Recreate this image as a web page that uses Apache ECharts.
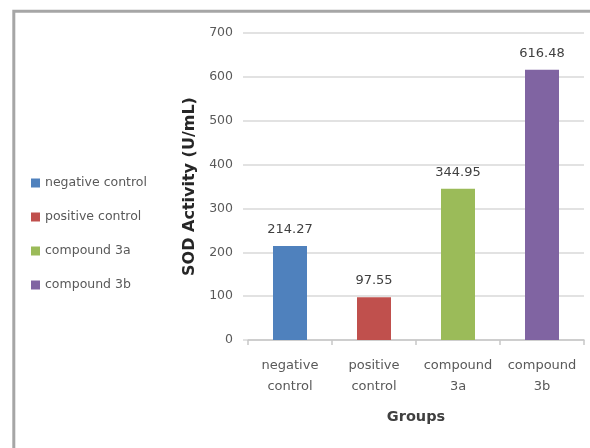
<!DOCTYPE html>
<html>
<head>
<meta charset="utf-8">
<script src="https://cdn.jsdelivr.net/npm/echarts@6/dist/echarts.min.js"></script>
<style>
  html, body { margin: 0; padding: 0; background: #ffffff; }
  #chart { width: 590px; height: 448px; }
</style>
</head>
<body>
<div id="chart"></div>
<script>
// Group names (axis labels wrap onto two lines) and SOD activity per group
const groups = ['negative control', 'positive control', 'compound 3a', 'compound 3b'];
const groupAxisLabels = ['negative\ncontrol', 'positive\ncontrol', 'compound\n3a', 'compound\n3b'];
const sodActivity = [214.27, 97.55, 344.95, 616.48];
const groupColors = ['#4f81bd', '#c0504d', '#9bbb59', '#8064a2'];
const yTicks = { min: 0, max: 700, interval: 100 };

const labelFont = "'DejaVu Sans', sans-serif";
const textColor = '#595959';

// One series per group so each gets its own legend entry; stacking keeps bars centred
const series = groups.map((name, i) => ({
  name: name,
  type: 'bar',
  stack: 'groups',
  barWidth: 34,
  itemStyle: { color: groupColors[i] },
  label: {
    show: true,
    position: 'top',
    distance: 10,
    color: '#404040',
    fontFamily: labelFont,
    fontSize: 13,
    formatter: p => sodActivity[p.dataIndex].toFixed(2)
  },
  data: sodActivity.map((v, j) => (j === i ? v : '-'))
}));

const chart = echarts.init(document.getElementById('chart'), null, { renderer: 'canvas' });
chart.setOption({
  animation: false,
  backgroundColor: '#ffffff',
  graphic: [{
    type: 'rect',
    shape: { x: 13.8, y: 11.3, width: 620, height: 480 },
    style: { fill: 'none', stroke: '#a6a6a6', lineWidth: 3 },
    silent: true
  }],
  legend: {
    orient: 'vertical',
    left: 31,
    top: 175,
    padding: 0,
    itemWidth: 9,
    itemHeight: 9,
    itemGap: 18,
    icon: 'rect',
    data: groups,
    textStyle: {
      fontFamily: labelFont,
      fontSize: 12.5,
      color: textColor,
      lineHeight: 16
    }
  },
  grid: { left: 248, right: 6, top: 33, bottom: 108, containLabel: false },
  xAxis: {
    type: 'category',
    data: groupAxisLabels,
    name: 'Groups',
    nameLocation: 'middle',
    nameGap: 70,
    nameTextStyle: {
      fontFamily: labelFont,
      fontWeight: 'bold',
      fontSize: 14.5,
      color: '#404040',
      verticalAlign: 'top'
    },
    axisLine: { lineStyle: { color: '#c8c8c8', width: 1.5 } },
    axisTick: { show: true, length: 5, lineStyle: { color: '#c8c8c8', width: 1.5 } },
    axisLabel: {
      interval: 0,
      margin: 15,
      fontFamily: labelFont,
      fontSize: 13,
      lineHeight: 21,
      color: textColor
    }
  },
  yAxis: {
    type: 'value',
    min: yTicks.min,
    max: yTicks.max,
    interval: yTicks.interval,
    name: 'SOD Activity (U/mL)',
    nameLocation: 'middle',
    nameGap: 50,
    nameTextStyle: {
      fontFamily: labelFont,
      fontWeight: 'bold',
      fontSize: 16,
      color: '#262626'
    },
    axisLine: { show: false },
    axisTick: { show: true, length: 5, lineStyle: { color: '#d9d9d9', width: 1.5 } },
    axisLabel: {
      margin: 15,
      fontFamily: labelFont,
      fontSize: 12.5,
      color: textColor
    },
    splitLine: { lineStyle: { color: '#d9d9d9', width: 1.5 } }
  },
  series: series
});
</script>
</body>
</html>
